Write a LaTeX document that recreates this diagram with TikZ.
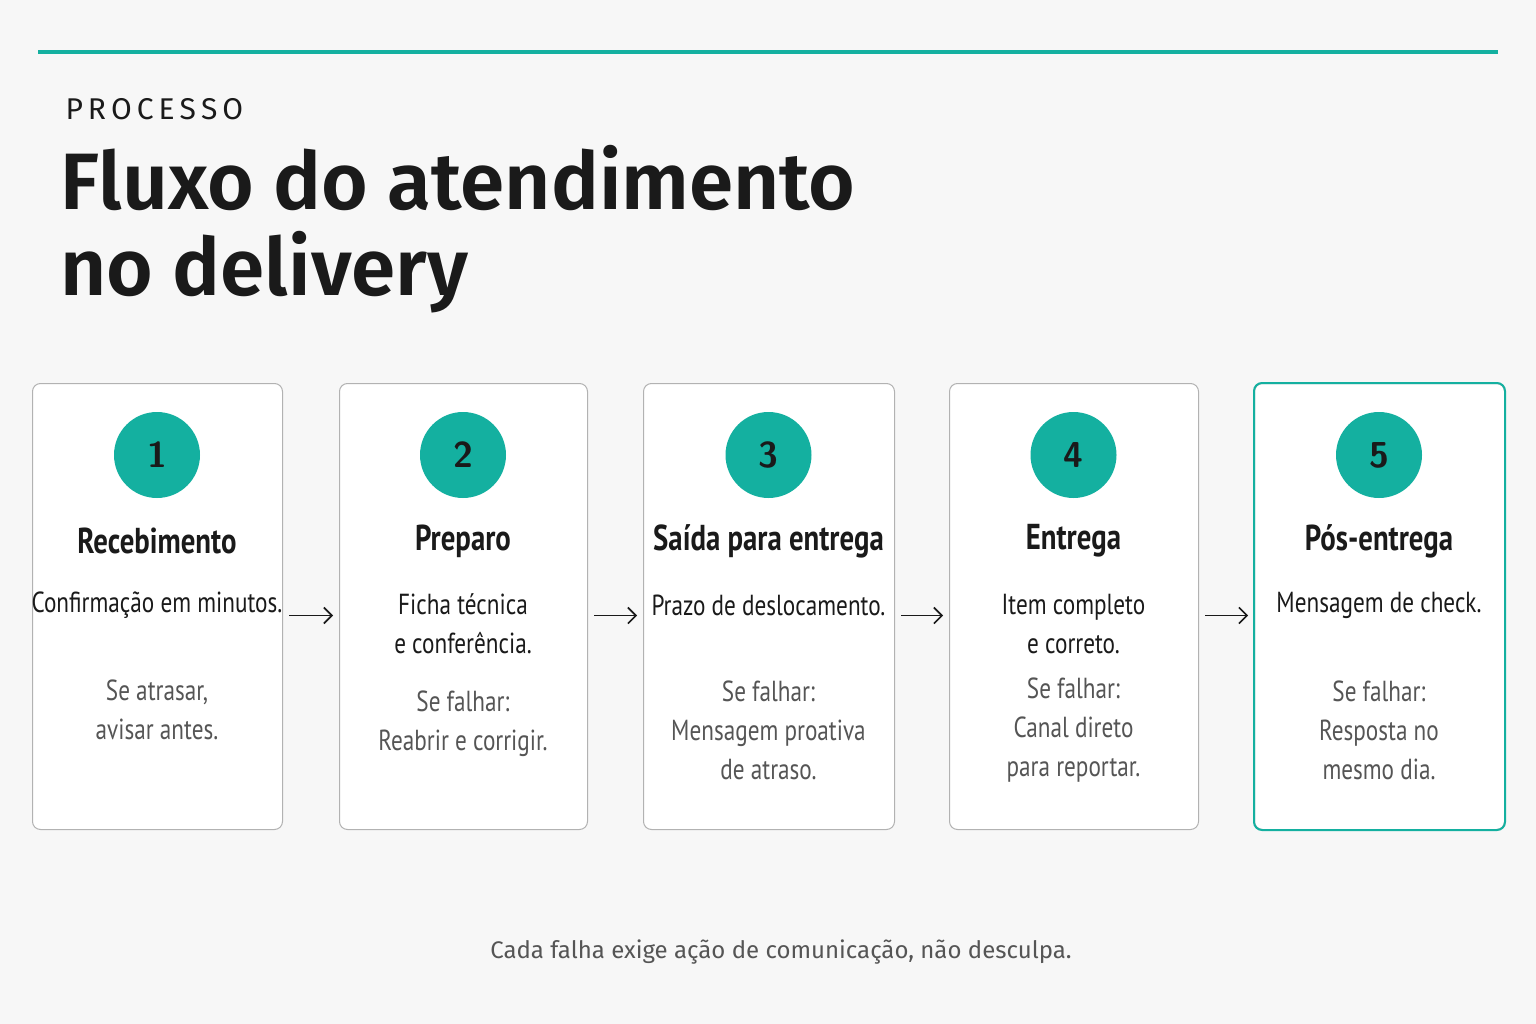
\documentclass[tikz,border=0pt]{standalone}
\usepackage{fontspec}
\setmainfont{Fira Sans}
\newfontfamily\cond[FakeStretch=0.8]{PT Sans}
\newfontfamily\head{Fira Sans SemiBold}
\usetikzlibrary{arrows.meta}
\definecolor{teal}{HTML}{14B0A0}
\definecolor{bg}{HTML}{F7F7F7}
\definecolor{txt}{HTML}{1A1A1A}
\definecolor{gr}{HTML}{555555}
\begin{document}
\begin{tikzpicture}[x=1pt,y=-1pt,
 box/.style={draw=black!30,line width=1pt,rounded corners=8pt,fill=white},
 num/.style={circle,fill=teal,minimum size=86pt,inner sep=0,font=\sffamily\bfseries\fontsize{36}{36}\selectfont,text=txt},
 ttl/.style={font=\cond\bfseries\fontsize{36}{36}\selectfont,text=txt},
 body/.style={font=\cond\fontsize{29}{39}\selectfont,text=txt,align=center},
 fail/.style={font=\cond\fontsize{29}{39}\selectfont,text=gr,align=center},
 arr/.style={-{Straight Barb[length=8pt,width=16pt]},line width=1.6pt,txt}]
\fill[bg] (0,0) rectangle (1536,1024);
\useasboundingbox (0,0) rectangle (1536,1024);
\draw[teal,line width=4pt] (38,52) -- (1498,52);
\node[anchor=west,font=\fontsize{30}{30}\selectfont,text=txt] (pre) at (62,109) {P\,R\,O\,C\,E\,S\,S\,O};
\node[anchor=north west,align=left,font=\head\fontsize{80}{86}\selectfont,text=txt,inner sep=0] (t) at (60,145) {Fluxo do atendimento\\no delivery};
\foreach \i/\a/\b/\tt/\bd/\by/\fl/\fy in {
 1/32/282/Recebimento/{Confirmação em minutos.}/605/{Se atrasar,\\avisar antes.}/710,
 2/339/587/Preparo/{Ficha técnica\\e conferência.}/624/{Se falhar:\\Reabrir e corrigir.}/724,
 3/643/894/Saída para entrega/{Prazo de deslocamento.}/605/{Se falhar:\\Mensagem proativa\\de atraso.}/730,
 4/949/1198/Entrega/{Item completo\\e correto.}/624/{Se falhar:\\Canal direto\\para reportar.}/730,
 5/1254/1504/Pós-entrega/{Mensagem de check.}/605/{Se falhar:\\Resposta no\\mesmo dia.}/730}{
 \node[box,minimum width=\b-\a,minimum height=446,anchor=north west] (b\i) at (\a,383) {};
 \node[num] (n\i) at ({(\a+\b)/2},455) {\i};
 \node[ttl] (h\i) at ({(\a+\b)/2},541) {\tt};
 \node[body] (d\i) at ({(\a+\b)/2},\by) {\bd};
 \node[fail] (f\i) at ({(\a+\b)/2},\fy) {\fl};
}
\draw[teal,line width=2pt,rounded corners=8pt] (b5.north west) rectangle (b5.south east);
\foreach \i/\j in {1/2,2/3,3/4,4/5}{
 \draw[arr] ([xshift=6pt,yshift=-9pt]b\i.east) -- ([xshift=-6pt,yshift=-9pt]b\j.west);
}
\node[font=\fontsize{24}{24}\selectfont,text=gr] (foot) at (781,952) {Cada falha exige ação de comunicação, não desculpa.};
\end{tikzpicture}
\end{document}
